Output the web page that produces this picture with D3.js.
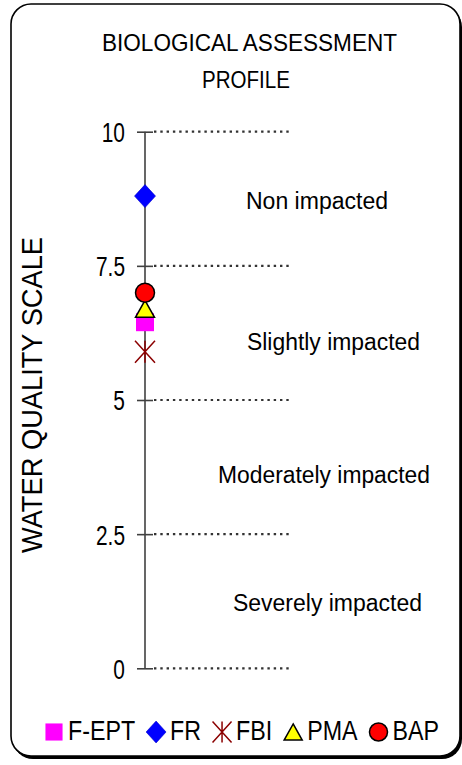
<!DOCTYPE html>
<html><head><meta charset="utf-8">
<script src="https://cdn.jsdelivr.net/npm/d3@7"></script>
<style>
body{margin:0;background:#fff}
svg{display:block}
text{font-family:"Liberation Sans",Arial,Helvetica,sans-serif;fill:#000}
</style>
</head><body>
<svg id="c" width="462" height="765"></svg>
<script>
// ---------- data ----------
const titleLines = ["BIOLOGICAL ASSESSMENT", "PROFILE"];
const yAxisTitle = "WATER QUALITY SCALE";
const tickValues = [0, 2.5, 5, 7.5, 10];
const tickLabels = ["0", "2.5", "5", "7.5", "10"];
const zoneLabels = ["Non impacted", "Slightly impacted", "Moderately impacted", "Severely impacted"];
const category = ["Site"];
const seriesNames = ["F-EPT", "FR", "FBI", "PMA", "BAP"];
const seriesValues = [6.45, 8.8, 5.9, 6.7, 7.0];
const seriesColors = ["#FF00FF", "#0000FF", "#8B0000", "#FFFF00", "#FF0000"];
const seriesShapes = ["square", "diamond", "star", "triangle", "circle"];

// ---------- layout ----------
const svg = d3.select("#c");

// frame with shadow
svg.append("rect").attr("x", 13).attr("y", 7).attr("width", 449).attr("height", 752)
  .attr("rx", 20).attr("fill", "#000");
svg.append("rect").attr("x", 11).attr("y", 4).attr("width", 449).attr("height", 752)
  .attr("rx", 20).attr("fill", "#fff").attr("stroke", "#000").attr("stroke-width", 1.6);

function fitText(sel, factor) {
  sel.each(function () {
    const w = this.getComputedTextLength();
    d3.select(this).attr("textLength", w * factor).attr("lengthAdjust", "spacingAndGlyphs");
  });
}
function fixWidth(sel, w) {
  sel.attr("textLength", w).attr("lengthAdjust", "spacingAndGlyphs");
}

// title
const titleGeom = [{x: 249.5, y: 51, w: 295}, {x: 246, y: 88, w: 88}];
titleLines.forEach((t, i) => {
  const tx = svg.append("text").attr("x", titleGeom[i].x).attr("y", titleGeom[i].y)
    .attr("text-anchor", "middle").attr("font-size", 24.5).text(t);
  fixWidth(tx, titleGeom[i].w);
});

// scales
const y = d3.scaleLinear().domain([0, 10]).range([668.3, 131.7]);
const x = d3.scalePoint().domain(category).range([145, 145]);
const cx = x(category[0]);

// dotted grid lines
svg.append("g").selectAll("line").data(tickValues).join("line")
  .attr("x1", cx + 9).attr("x2", 292)
  .attr("y1", d => y(d)).attr("y2", d => y(d))
  .attr("stroke", "#333").attr("stroke-width", 2.2)
  .attr("stroke-dasharray", "2.4,3.9");

// axis
const axis = d3.axisLeft(y).tickValues(tickValues).tickSize(8).tickPadding(12)
  .tickFormat((d, i) => tickLabels[i]);
const gAxis = svg.append("g").attr("transform", `translate(${cx},0)`).call(axis);
gAxis.select(".domain").attr("stroke", "#404040").attr("stroke-width", 1.6).attr("d", `M0,${y(0)}V${y(10)}`);
gAxis.selectAll(".tick line").attr("stroke", "#404040").attr("stroke-width", 1.6).attr("x2", -8).attr("x1", 8);
gAxis.selectAll(".tick text").attr("font-size", 27.5).attr("fill", "#000")
  .attr("font-family", '"Liberation Sans",Arial,sans-serif').attr("dy", "0.36em");
fitText(gAxis.selectAll(".tick text"), 0.76);

// y axis title
const yt = svg.append("text").attr("transform", "translate(42,395) rotate(-90)")
  .attr("text-anchor", "middle").attr("font-size", 29).text(yAxisTitle);
fixWidth(yt, 316);

// zone labels
const zoneGeom = [
  {x: 246, y: 209, w: 142},
  {x: 247, y: 350, w: 173},
  {x: 218, y: 483, w: 212},
  {x: 233, y: 611, w: 189}
];
zoneLabels.forEach((t, i) => {
  const tx = svg.append("text").attr("x", zoneGeom[i].x).attr("y", zoneGeom[i].y)
    .attr("font-size", 23.5).text(t);
  fixWidth(tx, zoneGeom[i].w);
});

// marker drawing
function marker(g, shape, color, s) {
  if (shape === "square") {
    g.append("rect").attr("x", -s * 0.9).attr("y", -s * 0.9).attr("width", s * 1.8).attr("height", s * 1.8)
      .attr("fill", color);
  } else if (shape === "diamond") {
    const w = s * 1.05, h = s * 1.15;
    g.append("path").attr("d", `M0,${-h}L${w},0L0,${h}L${-w},0Z`).attr("fill", color)
      .attr("stroke", "#0000CC").attr("stroke-width", 0.6);
  } else if (shape === "star") {
    const w = s * 1.0, h = s * 1.1;
    g.append("path").attr("d", `M${-w},${-h}L${w},${h}M${w},${-h}L${-w},${h}M0,${-h}L0,${h}`)
      .attr("stroke", color).attr("stroke-width", 1.5).attr("fill", "none");
  } else if (shape === "triangle") {
    const w = s * 0.95, h = s * 0.85;
    g.append("path").attr("d", `M0,${-h}L${w},${h}L${-w},${h}Z`).attr("fill", color)
      .attr("stroke", "#000").attr("stroke-width", 1.5).attr("stroke-linejoin", "miter");
  } else if (shape === "circle") {
    g.append("circle").attr("r", s * 0.95).attr("fill", color).attr("stroke", "#000").attr("stroke-width", 1.5);
  }
}

// points
const points = seriesNames.map((n, i) => ({name: n, value: seriesValues[i], color: seriesColors[i], shape: seriesShapes[i]}));
const gPts = svg.append("g");
points.forEach(p => {
  const g = gPts.append("g").attr("transform", `translate(${cx},${y(p.value)})`);
  marker(g, p.shape, p.color, 10);
});

// legend
const gLeg = svg.append("g");
let lx = 54;
const ly = 732;
points.forEach(p => {
  const g = gLeg.append("g").attr("transform", `translate(${lx},${ly})`);
  marker(g, p.shape, p.color, 9.5);
  const t = gLeg.append("text").attr("x", lx + 14).attr("y", 740).attr("font-size", 27).text(p.name);
  fitText(t, 0.86);
  const w = +t.attr("textLength");
  lx = lx + 14 + w + 21;
});
</script>
</body></html>
